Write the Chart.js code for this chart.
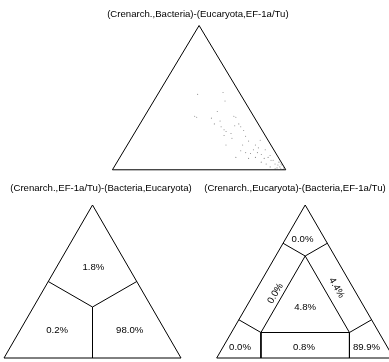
<!DOCTYPE html>
<html>
<head>
<meta charset="utf-8">
<script src="https://cdn.jsdelivr.net/npm/chart.js@4.4.1/dist/chart.umd.min.js"></script>
<style>
    html, body { margin: 0; padding: 0; background: #fff; }
    body { position: relative; width: 389px; height: 362px; overflow: hidden; }
    canvas { position: absolute; }
</style>
</head>
<body>
<canvas id="map-points" width="389" height="180" style="left:0;top:0"></canvas>
<canvas id="map-three" width="195" height="182" style="left:0;top:180px"></canvas>
<canvas id="map-seven" width="194" height="182" style="left:195px;top:180px"></canvas>
<script>
// corner trees: top, bottom-left, bottom-right
const TREE_TITLES = [
    "(Crenarch.,Bacteria)-(Eucaryota,EF-1a/Tu)",
    "(Crenarch.,EF-1a/Tu)-(Bacteria,Eucaryota)",
    "(Crenarch.,Eucaryota)-(Bacteria,EF-1a/Tu)",
];

// likelihood weights of each quartet: top tree and bottom-right tree (bottom-left = rest)
const POINT_TOP = [
    0.523, 0.536, 0.477, 0.371, 0.364, 0.358, 0.371, 0.364, 0.338, 0.318,
    0.298, 0.278, 0.265, 0.252, 0.318, 0.298, 0.272, 0.238, 0.219, 0.232,
    0.199, 0.172, 0.172, 0.132, 0.119, 0.113, 0.152, 0.106, 0.139, 0.086,
    0.066, 0.040, 0.033, 0.020, 0.007, 0.002, 0.040, 0.020, 0.007, 0.053,
    0.086, 0.086, 0.033, 0.013, 0.053, 0.013, 0.040, 0.066, 0.099, 0.079,
    0.119, 0.139, 0.079, 0.172, 0.205, 0.305, 0.404,
];
const POINT_RIGHT = [
    0.230, 0.370, 0.411, 0.289, 0.304, 0.392, 0.515, 0.530, 0.452, 0.429,
    0.478, 0.505, 0.523, 0.558, 0.570, 0.591, 0.621, 0.525, 0.580, 0.652,
    0.686, 0.739, 0.569, 0.674, 0.709, 0.740, 0.766, 0.806, 0.812, 0.855,
    0.882, 0.918, 0.938, 0.956, 0.968, 0.983, 0.867, 0.900, 0.935, 0.832,
    0.782, 0.669, 0.961, 0.982, 0.934, 0.943, 0.952, 0.894, 0.860, 0.836,
    0.777, 0.744, 0.746, 0.665, 0.750, 0.553, 0.403,
];

// % of quartets: top, left, right
const THREE_REGION_PCT = [1.8, 0.2, 98.0];
// % of quartets: top, left, right corners, then edges left, right, bottom, then centre
const SEVEN_REGION_PCT = [0.0, 0.0, 89.9, 0.0, 4.4, 0.8, 4.8];

const H = Math.sqrt(3) / 2;
const FONT = '9.6px "Liberation Sans", Arial, sans-serif';

function bary(a1, a2, a3) {
    return { x: a3 + a1 / 2, y: a1 * H };
}

function pct(v) {
    return v.toFixed(1) + '%';
}

// pixel placement of a triangle inside its canvas -> scale limits
function frame(w, h, left, base, side, height) {
    const sy = height / H;
    return {
        x: { min: -left / side, max: (w - left) / side },
        y: { min: -(h - base) / sy, max: base / sy },
    };
}

const mapText = {
    id: 'mapText',
    afterDatasetsDraw(chart, args, opts) {
        const { ctx, scales: { x, y } } = chart;
        ctx.save();
        ctx.font = FONT;
        ctx.fillStyle = '#000';
        ctx.textAlign = 'center';
        ctx.textBaseline = 'middle';
        for (const t of opts.items) {
            ctx.save();
            ctx.translate(x.getPixelForValue(t.x), y.getPixelForValue(t.y));
            ctx.rotate(t.rot || 0);
            ctx.fillText(t.text, 0, 0);
            ctx.restore();
        }
        ctx.restore();
    }
};

function edge(points) {
    return {
        data: points,
        showLine: true,
        borderColor: '#000',
        borderWidth: 1,
        pointRadius: 0,
        fill: false,
    };
}

const OUTLINE = [bary(0, 1, 0), bary(0, 0, 1), bary(1, 0, 0), bary(0, 1, 0)];

function makeMap(id, fr, datasets, items) {
    new Chart(document.getElementById(id), {
        type: 'scatter',
        data: { datasets },
        options: {
            responsive: false,
            animation: false,
            events: [],
            layout: { padding: 0 },
            plugins: {
                legend: { display: false },
                tooltip: { enabled: false },
                mapText: { items },
            },
            scales: {
                x: { type: 'linear', display: false, min: fr.x.min, max: fr.x.max },
                y: { type: 'linear', display: false, min: fr.y.min, max: fr.y.max },
            },
        },
        plugins: [mapText],
    });
}

function drawPointMap() {
    const pts = POINT_TOP.map((t, i) => bary(t, 1 - t - POINT_RIGHT[i], POINT_RIGHT[i]));
    makeMap('map-points', frame(389, 180, 110.7, 173.5, 177, 151), [
        edge(OUTLINE),
        {
            data: pts,
            pointRadius: 0.55,
            pointBorderWidth: 0,
            backgroundColor: '#8a8a8a',
        },
    ], [
        { text: TREE_TITLES[0], x: 0.493, y: 0.935 },
    ]);
}

function drawThreeMap() {
    const c = bary(1 / 3, 1 / 3, 1 / 3);
    makeMap('map-three', frame(195, 182, 4, 178, 177, 153), [
        edge(OUTLINE),
        edge([c, bary(0.5, 0.5, 0)]),
        edge([c, bary(0.5, 0, 0.5)]),
        edge([c, bary(0, 0.5, 0.5)]),
    ], [
        { text: TREE_TITLES[1], x: 0.548, y: 0.962 },
        { text: pct(THREE_REGION_PCT[0]), ...bary(0.59, 0.2, 0.21) },
        { text: pct(THREE_REGION_PCT[1]), ...bary(0.18, 0.61, 0.21) },
        { text: pct(THREE_REGION_PCT[2]), ...bary(0.18, 0.2, 0.62) },
    ]);
}

function drawSevenMap() {
    const a = bary(2 / 3, 1 / 6, 1 / 6);
    const b = bary(1 / 6, 2 / 3, 1 / 6);
    const c = bary(1 / 6, 1 / 6, 2 / 3);
    makeMap('map-seven', frame(194, 182, 21.7, 178, 177, 153), [
        edge(OUTLINE),
        edge([a, b, c, a]),
        edge([a, bary(0.75, 0.25, 0)]),
        edge([a, bary(0.75, 0, 0.25)]),
        edge([b, bary(0.25, 0.75, 0)]),
        edge([b, bary(0, 0.75, 0.25)]),
        edge([c, bary(0.25, 0, 0.75)]),
        edge([c, bary(0, 0.25, 0.75)]),
    ], [
        { text: TREE_TITLES[2], x: 0.442, y: 0.962 },
        { text: pct(SEVEN_REGION_PCT[0]), ...bary(0.778, 0.126, 0.096) },
        { text: pct(SEVEN_REGION_PCT[1]), ...bary(0.067, 0.835, 0.098) },
        { text: pct(SEVEN_REGION_PCT[2]), ...bary(0.067, 0.12, 0.813) },
        { text: pct(SEVEN_REGION_PCT[3]), ...bary(0.422, 0.457, 0.121), rot: -Math.PI / 3 },
        { text: pct(SEVEN_REGION_PCT[4]), ...bary(0.458, 0.094, 0.448), rot: Math.PI / 3 },
        { text: pct(SEVEN_REGION_PCT[5]), ...bary(0.067, 0.473, 0.46) },
        { text: pct(SEVEN_REGION_PCT[6]), ...bary(1 / 3, 1 / 3, 1 / 3) },
    ]);
}

drawPointMap();
drawThreeMap();
drawSevenMap();
</script>
</body>
</html>
